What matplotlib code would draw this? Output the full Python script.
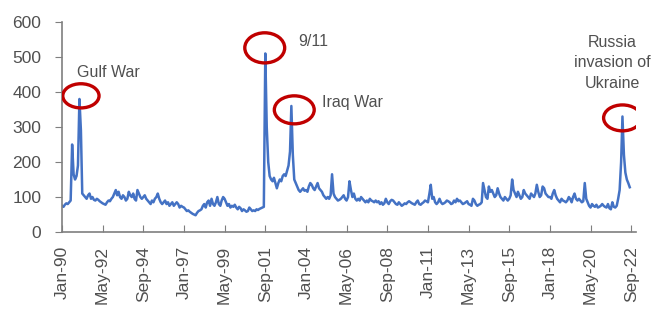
import matplotlib
matplotlib.use("Agg")
import matplotlib.pyplot as plt
import matplotlib.dates as mdates
from matplotlib.patches import Ellipse
import pandas as pd

# Monthly geopolitical risk index, Jan 1990 - Aug 2022
gpr_by_year = {
    1990: [75, 72, 78, 82, 80, 85, 90, 250, 165, 150, 160, 190],
    1991: [380, 290, 110, 105, 100, 95, 105, 110, 95, 100, 92, 90],
    1992: [95, 92, 88, 85, 82, 80, 78, 85, 90, 88, 95, 100],
    1993: [110, 120, 105, 115, 100, 95, 105, 100, 90, 95, 115, 105],
    1994: [100, 110, 95, 90, 120, 110, 100, 95, 100, 105, 95, 90],
    1995: [85, 80, 90, 85, 95, 100, 110, 95, 85, 80, 85, 90],
    1996: [80, 85, 75, 80, 85, 75, 80, 85, 80, 70, 75, 72],
    1997: [70, 65, 60, 62, 58, 55, 52, 50, 48, 55, 60, 62],
    1998: [65, 75, 80, 70, 85, 90, 75, 95, 80, 75, 85, 100],
    1999: [80, 75, 90, 100, 95, 85, 75, 80, 70, 75, 72, 78],
    2000: [70, 65, 72, 68, 60, 65, 62, 58, 60, 70, 65, 60],
    2001: [62, 60, 65, 63, 66, 68, 70, 72, 510, 300, 200, 160],
    2002: [150, 145, 155, 140, 125, 140, 150, 145, 160, 165, 160, 175],
    2003: [190, 230, 360, 220, 150, 140, 130, 120, 115, 120, 125, 118],
    2004: [120, 115, 130, 140, 135, 125, 120, 130, 140, 125, 120, 115],
    2005: [105, 100, 95, 100, 95, 105, 165, 110, 100, 95, 90, 92],
    2006: [95, 100, 105, 95, 90, 100, 145, 120, 100, 110, 95, 90],
    2007: [95, 90, 100, 95, 90, 85, 90, 85, 95, 90, 88, 85],
    2008: [90, 85, 88, 80, 85, 78, 82, 95, 85, 80, 88, 92],
    2009: [90, 85, 80, 78, 85, 80, 75, 78, 82, 80, 85, 88],
    2010: [85, 82, 80, 78, 85, 90, 80, 78, 82, 85, 90, 88],
    2011: [85, 110, 135, 95, 100, 85, 80, 85, 95, 85, 80, 82],
    2012: [85, 90, 88, 85, 80, 82, 90, 85, 95, 88, 90, 85],
    2013: [80, 82, 85, 88, 80, 78, 75, 95, 90, 80, 75, 78],
    2014: [80, 85, 140, 120, 100, 95, 130, 115, 120, 110, 100, 105],
    2015: [125, 110, 100, 95, 90, 100, 95, 90, 95, 105, 150, 120],
    2016: [110, 100, 115, 105, 95, 100, 120, 110, 105, 100, 95, 110],
    2017: [105, 100, 110, 135, 115, 100, 105, 130, 125, 110, 105, 100],
    2018: [100, 95, 110, 120, 105, 95, 90, 85, 95, 90, 88, 85],
    2019: [90, 100, 95, 85, 100, 110, 95, 90, 95, 90, 85, 88],
    2020: [140, 95, 85, 75, 70, 80, 75, 72, 78, 70, 72, 75],
    2021: [80, 75, 72, 70, 80, 68, 65, 85, 72, 70, 75, 95],
    2022: [120, 200, 330, 220, 170, 150, 140, 128],
}

tick_labels = ["Jan-90", "May-92", "Sep-94", "Jan-97", "May-99", "Sep-01", "Jan-04",
               "May-06", "Sep-08", "Jan-11", "May-13", "Sep-15", "Jan-18", "May-20", "Sep-22"]

events = ["Gulf War", "9/11", "Iraq War", "Russia\ninvasion of\nUkraine"]
event_dates = ["1991-02-01", "2001-08-20", "2003-05-01", "2022-03-01"]
event_levels = [389, 526, 349, 326]

values = [v for y in sorted(gpr_by_year) for v in gpr_by_year[y]]
dates = pd.date_range("1990-01-01", periods=len(values), freq="MS")
tick_dates = pd.to_datetime(tick_labels, format="%b-%y")

fig = plt.figure(figsize=(6.57, 3.09), dpi=100)
ax = fig.add_axes([0.0944, 0.249, 0.874, 0.680])

ax.plot(dates, values, color="#4472C4", lw=1.8)

ax.set_ylim(0, 600)
ax.set_yticks(range(0, 601, 100))
ax.set_xlim(pd.Timestamp("1990-01-01"), pd.Timestamp("2022-12-15"))
ax.set_xticks(tick_dates)
ax.set_xticklabels(tick_labels, rotation=90)

txt = "#505050"
for s in ["top", "right"]:
    ax.spines[s].set_visible(False)
for s in ["left", "bottom"]:
    ax.spines[s].set_color("#7f7f7f")
    ax.spines[s].set_linewidth(1.2)
ax.tick_params(axis="x", direction="in", length=5, color="#7f7f7f",
               labelsize=12.5, labelcolor=txt, pad=10)
ax.tick_params(axis="y", direction="out", length=5, color="#7f7f7f",
               labelsize=12.5, labelcolor=txt, pad=10)
for lab in ax.get_xticklabels() + ax.get_yticklabels():
    lab.set_family("Liberation Sans")

# ellipses (width in days, height in index units)
ell_w = [25 * 30.4, 27.5 * 30.4, 27.5 * 30.4, 26 * 30.4]
ell_h = [69, 86, 80, 74]
for d, lvl, w, h in zip(event_dates, event_levels, ell_w, ell_h):
    e = Ellipse((mdates.date2num(pd.Timestamp(d)), lvl), w, h, fill=False,
                edgecolor="#C00000", lw=2.4, zorder=5)
    ax.add_patch(e)

label_pos = [("1990-11-01", 457, "left"), ("2003-08-01", 543, "left"),
             ("2004-12-01", 369, "left"), ("2021-08-01", 483, "center")]
for t, (d, y, ha) in zip(events, label_pos):
    ax.text(pd.Timestamp(d), y, t, ha=ha, va="center", fontsize=11.5, color=txt,
            family="Liberation Sans", linespacing=1.45)

fig.savefig("out.png", dpi=100)
